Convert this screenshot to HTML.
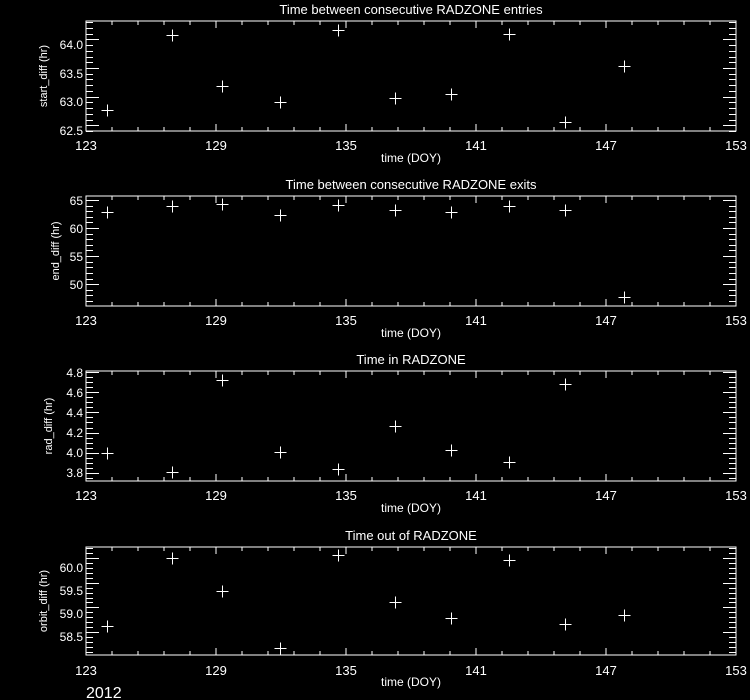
<!DOCTYPE html>
<html><head><meta charset="utf-8"><style>
html,body{margin:0;padding:0;background:#000;width:750px;height:700px;overflow:hidden}
svg text{font-family:"Liberation Sans",sans-serif;fill:#fff}
</style></head><body>
<svg id="s" width="750" height="700" xmlns="http://www.w3.org/2000/svg">
<g font-size="13" text-anchor="middle">
<text x="411" y="14">Time between consecutive RADZONE entries</text>
<text x="411" y="189">Time between consecutive RADZONE exits</text>
<text x="411" y="364">Time in RADZONE</text>
<text x="411" y="540">Time out of RADZONE</text>
</g>
<g font-size="12" text-anchor="middle">
<text x="411" y="162">time (DOY)</text>
<text x="411" y="337">time (DOY)</text>
<text x="411" y="512">time (DOY)</text>
<text x="411" y="686">time (DOY)</text>
</g>
<g font-size="11" text-anchor="middle">
<text transform="translate(47,76) rotate(-90)">start_diff (hr)</text>
<text transform="translate(59,251) rotate(-90)">end_diff (hr)</text>
<text transform="translate(52,426) rotate(-90)">rad_diff (hr)</text>
<text transform="translate(47,601) rotate(-90)">orbit_diff (hr)</text>
</g>
<g font-size="13" text-anchor="middle">
<text x="86" y="150">123</text><text x="216" y="150">129</text><text x="346" y="150">135</text><text x="476" y="150">141</text><text x="606" y="150">147</text><text x="736" y="150">153</text>
<text x="86" y="325">123</text><text x="216" y="325">129</text><text x="346" y="325">135</text><text x="476" y="325">141</text><text x="606" y="325">147</text><text x="736" y="325">153</text>
<text x="86" y="500">123</text><text x="216" y="500">129</text><text x="346" y="500">135</text><text x="476" y="500">141</text><text x="606" y="500">147</text><text x="736" y="500">153</text>
<text x="86" y="675">123</text><text x="216" y="675">129</text><text x="346" y="675">135</text><text x="476" y="675">141</text><text x="606" y="675">147</text><text x="736" y="675">153</text>
</g>
<g font-size="12" text-anchor="end">
<text x="83" y="49">64.0</text><text x="83" y="78">63.5</text><text x="83" y="106">63.0</text><text x="83" y="135">62.5</text>
<text x="83" y="205">65</text><text x="83" y="233">60</text><text x="83" y="261">55</text><text x="83" y="289">50</text>
<text x="83" y="377">4.8</text><text x="83" y="397">4.6</text><text x="83" y="417">4.4</text><text x="83" y="437">4.2</text><text x="83" y="457">4.0</text><text x="83" y="477">3.8</text>
<text x="83" y="572">60.0</text><text x="83" y="595">59.5</text><text x="83" y="618">59.0</text><text x="83" y="641">58.5</text>
</g>
<text x="86" y="698" font-size="16">2012</text>
<g id="g" stroke="#fff" stroke-width="1" fill="none"></g>
</svg>
<script>
var g=document.getElementById('g'),d='';
var X0=86,X1=736;
var P=[
{t:21,b:131,lo:62.4,hi:64.32,maj:0.5,min:0.1,y0:62.5,
 py:[110,35,86,102,30,98,94,34,122,66]},
{t:196,b:306,lo:46.1,hi:65.7,maj:5,min:1,y0:50,
 py:[212,206,204,215,205,210,212,206,210,297]},
{t:371,b:481,lo:3.72,hi:4.81,maj:0.2,min:0.05,y0:3.8,
 py:[453,472,380,452,469,426,450,462,384]},
{t:547,b:655,lo:58.04,hi:60.22,maj:0.5,min:0.1,y0:58.5,
 py:[626,558,591,648,555,602,618,560,624,615]}];
var px=[107,172,222,280,338,395,451,509,565,624];
P.forEach(function(p){
 function yp(v){return p.b-(v-p.lo)*(p.b-p.t)/(p.hi-p.lo);}
 d+='M'+X0+' '+p.t+'H'+X1+'V'+p.b+'H'+X0+'Z';
 for(var i=0;i<=25;i++){var x=X0+i*(X1-X0)/25;var L=(i%5==0)?7:4;
  d+='M'+x+' '+p.b+'v-'+L+'M'+x+' '+p.t+'v'+L;}
 var k0=Math.ceil((p.lo-1e-9)/p.min),k1=Math.floor((p.hi+1e-9)/p.min);
 for(var k=k0;k<=k1;k++){var v=k*p.min;var y=Math.round(yp(v))+0.5;
  var r=(v-p.y0)/p.maj;var L=Math.abs(r-Math.round(r))<1e-6?13:7;
  d+='M'+X0+' '+y+'h'+L+'M'+X1+' '+y+'h-'+L;}
 p.py.forEach(function(yy,i){var x=px[i]+0.5,y=yy+0.5;
  d+='M'+(x-6)+' '+y+'h12M'+x+' '+(y-6)+'v12';});
});
var pa=document.createElementNS('http://www.w3.org/2000/svg','path');pa.setAttribute('d',d);g.appendChild(pa);
</script>
</body></html>
